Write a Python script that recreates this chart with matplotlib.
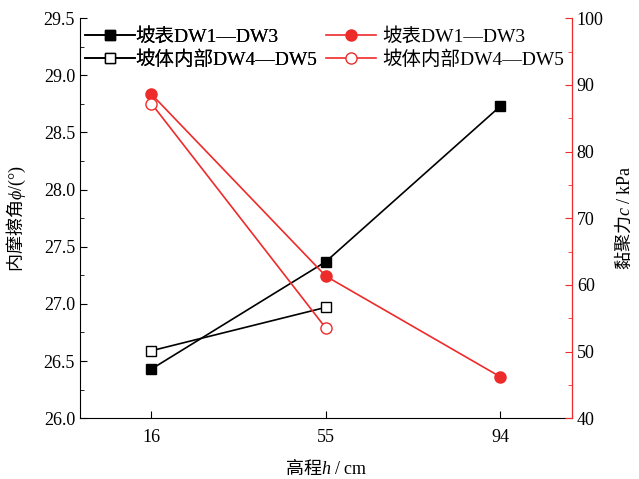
import numpy as np
import matplotlib
matplotlib.use('Agg')
import matplotlib.pyplot as plt
from matplotlib.ticker import MultipleLocator, FormatStrFormatter

plt.rcParams['font.family'] = ['Liberation Serif', 'Noto Sans CJK SC']
plt.rcParams['mathtext.fontset'] = 'custom'
plt.rcParams['mathtext.it'] = 'Liberation Serif:italic'
plt.rcParams['mathtext.rm'] = 'Liberation Serif'
plt.rcParams['mathtext.sf'] = 'Liberation Serif'

red = '#ee2b2b'

# data
h_surf = [16, 55, 94]
h_inner = [16, 55]
phi_surf = [26.43, 27.37, 28.73]
phi_inner = [26.59, 26.97]
c_surf = [88.6, 61.3, 46.2]
c_inner = [87.2, 53.5]
xticks = [16, 55, 94]

fig = plt.figure(figsize=(6.39, 4.79), dpi=100)
ax = fig.add_axes([0.125, 0.127, 0.77, 0.835])
ax2 = ax.twinx()

l1, = ax.plot(h_surf, phi_surf, '-s', color='black', lw=1.2, ms=6.5,
              label='坡表DW1—DW3')
l2, = ax.plot(h_inner, phi_inner, '-s', color='black', lw=1.2, ms=6.5,
              mfc='white', label='坡体内部DW4—DW5')
l3, = ax2.plot(h_surf, c_surf, '-o', color=red, lw=1.2, ms=8,
               label='坡表DW1—DW3')
l4, = ax2.plot(h_inner, c_inner, '-o', color=red, lw=1.2, ms=8,
               mfc='white', label='坡体内部DW4—DW5')

ax.set_xlim(0, 110)
ax.set_xticks(xticks)
ax.set_ylim(26.0, 29.5)
ax.yaxis.set_major_locator(MultipleLocator(0.5))
ax.yaxis.set_minor_locator(MultipleLocator(0.25))
ax.yaxis.set_major_formatter(FormatStrFormatter('%.1f'))
ax2.set_ylim(40, 100)
ax2.yaxis.set_major_locator(MultipleLocator(10))
ax2.yaxis.set_minor_locator(MultipleLocator(5))

for a in (ax, ax2):
    a.spines['top'].set_visible(False)
ax2.spines['right'].set_color(red)
ax2.spines['left'].set_visible(False)
ax2.spines['bottom'].set_visible(False)

ax.tick_params(axis='both', which='both', direction='in', labelsize=13)
ax.tick_params(which='major', length=5)
ax.tick_params(which='minor', length=3)
ax.tick_params(axis='x', pad=8)
ax2.tick_params(axis='y', which='both', direction='in', colors=red,
                labelcolor='black', labelsize=13)
ax2.tick_params(which='major', length=5)
ax2.tick_params(which='minor', length=3)

cjk = 'Noto Sans CJK SC'
ax.set_xlabel('高程$h\\mathsf{\\ /\\ cm}$', fontsize=13, labelpad=8, family=cjk)
ax.set_ylabel('内摩擦角$\\phi\\mathsf{/(°)}$', fontsize=13, labelpad=11, family=cjk)
ax2.set_ylabel('黏聚力$c\\mathsf{\\ /\\ kPa}$', fontsize=13, labelpad=7, family=cjk)

leg1 = ax.legend(handles=[l1, l2], loc='upper left', bbox_to_anchor=(0.01, 0.975),
                 frameon=False, fontsize=14, handlelength=2.6,
                 handletextpad=0.0, labelspacing=0.2, borderaxespad=0,
                 borderpad=0)
ax.add_artist(leg1)
leg2 = ax2.legend(handles=[l3, l4], loc='upper left', bbox_to_anchor=(0.5, 0.975),
                  frameon=False, fontsize=14, handlelength=2.6,
                  handletextpad=0.3, labelspacing=0.2, borderaxespad=0,
                  borderpad=0)

fig.savefig('out.png', dpi=100)
